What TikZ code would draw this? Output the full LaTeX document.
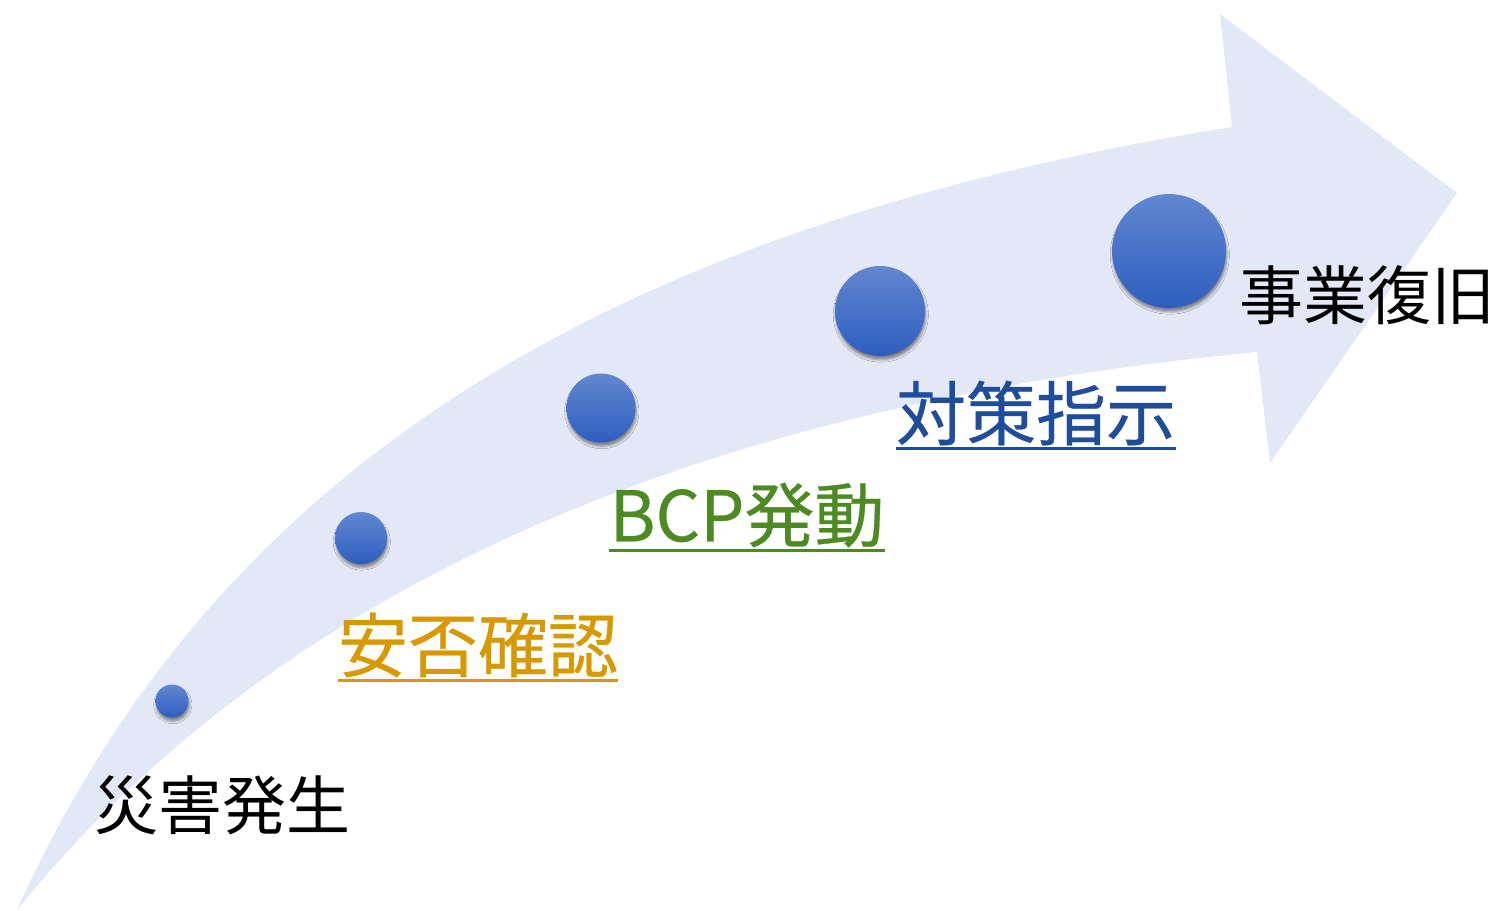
\documentclass[tikz,border=0pt]{standalone}
\usepackage{fontspec}
\setmainfont{Noto Sans CJK JP}
\newfontfamily\medfont[FakeBold=0.4]{Noto Sans CJK JP}
\usetikzlibrary{shadows.blur}
\definecolor{arrowfill}{HTML}{E3E8F6}
\definecolor{dottop}{HTML}{6287D1}
\definecolor{dotbot}{HTML}{2D5EBF}
\definecolor{goldtxt}{HTML}{D69A00}
\definecolor{greentxt}{HTML}{4C8A22}
\definecolor{bluetxt}{HTML}{1F4D9B}
\tikzset{
  dot/.style={circle, inner sep=0pt, top color=dottop, bottom color=dotbot, draw=none,
    blur shadow={shadow xshift=0.4pt, shadow yshift=-1.8pt, shadow blur radius=1.3pt, shadow opacity=45}},
  blacklabel/.style={inner sep=0pt, text=black, font=\fontsize{32pt}{38pt}\selectfont},
  colorlabel/.style={inner sep=0pt, font=\medfont\fontsize{35pt}{42pt}\selectfont},
  uline/.style={line width=1.4pt}
}
\begin{document}
\begin{tikzpicture}[x=0.5pt, y=-0.5pt]
\useasboundingbox (0,0) rectangle (1497,910);
% curved arrow
\fill[arrowfill] (17,910) .. controls (220,460) and (620,225) .. (1232,127)
  -- (1220,14) -- (1457,193) -- (1270,463) -- (1257,352)
  .. controls (750,400) and (300,560) .. (17,910) -- cycle;
% dots
\node[dot, minimum size=16.5pt] (d1) at (172,701) {};
\node[dot, minimum size=26pt] (d2) at (361,538) {};
\node[dot, minimum size=34.5pt] (d3) at (601,408) {};
\node[dot, minimum size=45pt] (d4) at (880,311) {};
\node[dot, minimum size=57pt] (d5) at (1169,251) {};
% labels
\node[blacklabel] (t1) at (222,805) {災害発生};
\node[colorlabel, text=goldtxt] (t2) at (478,645) {安否確認};
\node[colorlabel, text=greentxt] (t3) at (747,515) {BCP発動};
\node[colorlabel, text=bluetxt] (t4) at (1036,413) {対策指示};
\node[blacklabel] (t5) at (1367,295) {事業復旧};
% underlines
\draw[uline, goldtxt] ([yshift=-1.5pt]t2.south west) -- ([yshift=-1.5pt]t2.south east);
\draw[uline, greentxt] ([yshift=-1.5pt]t3.south west) -- ([yshift=-1.5pt]t3.south east);
\draw[uline, bluetxt] ([yshift=-1.5pt]t4.south west) -- ([yshift=-1.5pt]t4.south east);
\end{tikzpicture}
\end{document}
